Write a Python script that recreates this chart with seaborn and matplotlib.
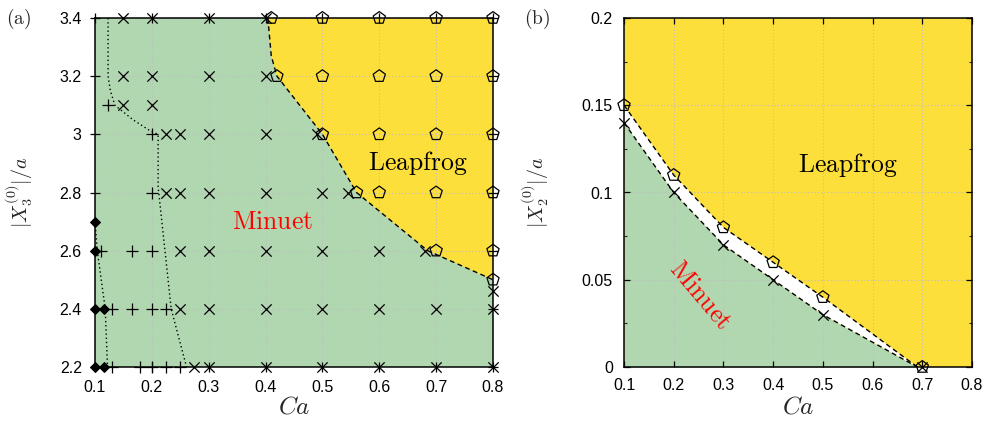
import matplotlib
matplotlib.use("Agg")
import matplotlib.pyplot as plt
import seaborn as sns

# ---------------- panel (a): |X3(0)|/a against Ca ----------------
cross_a_ca = [0.15, 0.2, 0.3, 0.4,
              0.15, 0.2, 0.3, 0.4,
              0.15, 0.2,
              0.225, 0.25, 0.3, 0.4, 0.49,
              0.225, 0.25, 0.3, 0.4, 0.5, 0.545,
              0.25, 0.3, 0.4, 0.5, 0.6, 0.68,
              0.8,
              0.25, 0.3, 0.4, 0.5, 0.6, 0.7, 0.8,
              0.275, 0.3, 0.4, 0.5, 0.6, 0.7, 0.8]
cross_a_x3 = [3.4, 3.4, 3.4, 3.4,
              3.2, 3.2, 3.2, 3.2,
              3.1, 3.1,
              3.0, 3.0, 3.0, 3.0, 3.0,
              2.8, 2.8, 2.8, 2.8, 2.8, 2.8,
              2.6, 2.6, 2.6, 2.6, 2.6, 2.6,
              2.46,
              2.4, 2.4, 2.4, 2.4, 2.4, 2.4, 2.4,
              2.2, 2.2, 2.2, 2.2, 2.2, 2.2, 2.2]

pent_a_ca = [0.41, 0.5, 0.6, 0.7, 0.8,
             0.42, 0.5, 0.6, 0.7, 0.8,
             0.5, 0.6, 0.7, 0.8,
             0.56, 0.6, 0.7, 0.8,
             0.7, 0.8,
             0.8]
pent_a_x3 = [3.4, 3.4, 3.4, 3.4, 3.4,
             3.2, 3.2, 3.2, 3.2, 3.2,
             3.0, 3.0, 3.0, 3.0,
             2.8, 2.8, 2.8, 2.8,
             2.6, 2.6,
             2.5]

plus_a_ca = [0.123, 0.2, 0.2, 0.11, 0.165, 0.2,
             0.13, 0.165, 0.2, 0.225,
             0.13, 0.18, 0.2, 0.225, 0.25]
plus_a_x3 = [3.1, 3.0, 2.8, 2.6, 2.6, 2.6,
             2.4, 2.4, 2.4, 2.4,
             2.2, 2.2, 2.2, 2.2, 2.2]

diam_a_ca = [0.1, 0.1, 0.1, 0.115, 0.1, 0.115]
diam_a_x3 = [2.7, 2.6, 2.4, 2.4, 2.2, 2.2]

# Minuet / Leapfrog boundary (dashed)
bound_a_ca = [0.404, 0.41, 0.42, 0.5, 0.56, 0.685, 0.8]
bound_a_x3 = [3.4, 3.27, 3.2, 3.0, 2.8, 2.6, 2.5]

# dotted sub-regime curves
dot1_ca = [0.123, 0.123, 0.127, 0.135, 0.167, 0.197, 0.211, 0.211, 0.234, 0.261]
dot1_x3 = [3.4, 3.2, 3.15, 3.1, 3.05, 3.012, 3.0, 2.82, 2.4, 2.2]
dot2_ca = [0.1, 0.104, 0.118, 0.122]
dot2_x3 = [2.7, 2.6, 2.4, 2.2]

# ---------------- panel (b): |X2(0)|/a against Ca ----------------
pent_b_ca = [0.1, 0.2, 0.3, 0.4, 0.5, 0.7]
pent_b_x2 = [0.15, 0.11, 0.08, 0.06, 0.04, 0.0]
cross_b_ca = [0.1, 0.2, 0.3, 0.4, 0.5, 0.7]
cross_b_x2 = [0.14, 0.10, 0.07, 0.05, 0.03, 0.0]

upper_b_ca = [0.1, 0.2, 0.3, 0.4, 0.5, 0.69]
upper_b_x2 = [0.15, 0.11, 0.08, 0.06, 0.04, 0.0]
lower_b_ca = [0.1, 0.2, 0.3, 0.4, 0.5, 0.69]
lower_b_x2 = [0.14, 0.10, 0.07, 0.05, 0.03, 0.0]

x_ticks = [0.1, 0.2, 0.3, 0.4, 0.5, 0.6, 0.7, 0.8]
x_ticklabels = ["0.1", "0.2", "0.3", "0.4", "0.5", "0.6", "0.7", "0.8"]
ya_ticks = [2.2, 2.4, 2.6, 2.8, 3.0, 3.2, 3.4]
ya_ticklabels = ["2.2", "2.4", "2.6", "2.8", "3", "3.2", "3.4"]
yb_ticks = [0.0, 0.05, 0.1, 0.15, 0.2]
yb_ticklabels = ["0", "0.05", "0.1", "0.15", "0.2"]

GREEN = "#b1d7b1"
YELLOW = "#fddf3b"

sns.set_theme(style="ticks")
plt.rcParams["font.family"] = ["Liberation Sans", "DejaVu Sans"]
plt.rcParams["mathtext.fontset"] = "cm"

fig = plt.figure(figsize=(9.92, 4.23), dpi=100)
ax_a = fig.add_axes([95 / 992, 56 / 423, 398 / 992, 349 / 423])
ax_b = fig.add_axes([624 / 992, 56 / 423, 348 / 992, 349 / 423])


def markers(ax, xs, ys, marker, size, lw=0.9, filled=True):
    sns.scatterplot(x=xs, y=ys, marker=marker, s=size, color="black",
                    ax=ax, clip_on=False, zorder=6, legend=False)
    pc = ax.collections[-1]
    pc.set_edgecolor("black")
    pc.set_facecolor("black" if filled else "none")
    pc.set_linewidth(lw)


def curve(ax, xs, ys, style):
    sns.lineplot(x=xs, y=ys, sort=False, estimator=None, color="black",
                 lw=1.0, ax=ax, zorder=4, legend=False)
    ax.lines[-1].set_linestyle(style)


def style_axes(ax, yticks, ylabels, direction, tlen):
    ax.set_xlim(0.1, 0.8)
    ax.set_xticks(x_ticks)
    ax.set_xticklabels(x_ticklabels)
    ax.set_yticks(yticks)
    ax.set_yticklabels(ylabels)
    ax.set_axisbelow(True)
    ax.grid(True, ls=(0, (1, 2)), color="#bdbdbd", lw=0.8)
    ax.tick_params(which="major", direction=direction, length=tlen, width=0.9,
                   top=True, right=True, labelsize=11.5, colors="black", pad=6)
    for sp in ax.spines.values():
        sp.set_color("black")
        sp.set_linewidth(1.1)
        sp.set_zorder(5)
    ax.set_xlabel(r"$Ca$", fontsize=18)
    ax.xaxis.set_label_coords(0.5, -0.08)


# ---- panel (a) ----
ax_a.set_facecolor(GREEN)
ax_a.fill(bound_a_ca + [0.8], bound_a_x3 + [3.4], color=YELLOW, lw=0, zorder=0.2)
curve(ax_a, bound_a_ca, bound_a_x3, (0, (3.5, 2.5)))
curve(ax_a, dot1_ca, dot1_x3, (0, (1, 2)))
curve(ax_a, dot2_ca, dot2_x3, (0, (1, 2)))
markers(ax_a, cross_a_ca, cross_a_x3, "x", 55)
markers(ax_a, plus_a_ca, plus_a_x3, "+", 80)
markers(ax_a, pent_a_ca, pent_a_x3, "p", 85, filled=False)
markers(ax_a, diam_a_ca, diam_a_x3, "D", 24)
style_axes(ax_a, ya_ticks, ya_ticklabels, "inout", 7)
ax_a.set_ylim(2.2, 3.4)
ax_a.set_ylabel(r"$|X_3^{(0)}|/a$", fontsize=14.5)
ax_a.yaxis.set_label_coords(-0.15, 0.5)
ax_a.text(0.668, 2.9, r"$\mathrm{Leapfrog}$", fontsize=18.5, color="black",
          ha="center", va="center", zorder=7)
ax_a.text(0.413, 2.7, r"$\mathrm{Minuet}$", fontsize=18.5, color="#ff0000",
          ha="center", va="center", zorder=7)

# ---- panel (b) ----
ax_b.set_facecolor(YELLOW)
ax_b.fill_between(lower_b_ca, lower_b_x2, 0, color=GREEN, lw=0, zorder=0.2)
ax_b.fill(upper_b_ca + lower_b_ca[::-1], upper_b_x2 + lower_b_x2[::-1],
          color="white", lw=0, zorder=0.8)
curve(ax_b, upper_b_ca, upper_b_x2, (0, (3.5, 2.5)))
curve(ax_b, lower_b_ca, lower_b_x2, (0, (3.5, 2.5)))
markers(ax_b, cross_b_ca, cross_b_x2, "x", 55)
markers(ax_b, pent_b_ca, pent_b_x2, "p", 85, filled=False)
style_axes(ax_b, yb_ticks, yb_ticklabels, "in", 4)
ax_b.set_ylim(0, 0.2)
ax_b.set_yticks([0.025, 0.075, 0.125, 0.175], minor=True)
ax_b.tick_params(which="minor", direction="in", length=2.5, width=0.8,
                 right=True, left=True)
ax_b.tick_params(which="major", pad=8)
ax_b.set_ylabel(r"$|X_2^{(0)}|/a$", fontsize=14.5)
ax_b.yaxis.set_label_coords(-0.21, 0.5)
ax_b.text(0.551, 0.116, r"$\mathrm{Leapfrog}$", fontsize=18.5, color="black",
          ha="center", va="center", zorder=7)
ax_b.text(0.253, 0.041, r"$\mathrm{Minuet}$", fontsize=18.5, color="#ff0000",
          ha="center", va="center", rotation=-50, zorder=7)

fig.text(19 / 992, 1 - 19 / 423, r"$\mathrm{(a)}$", fontsize=14,
         ha="center", va="center")
fig.text(537 / 992, 1 - 19 / 423, r"$\mathrm{(b)}$", fontsize=14,
         ha="center", va="center")

fig.savefig("out.png", dpi=100)
